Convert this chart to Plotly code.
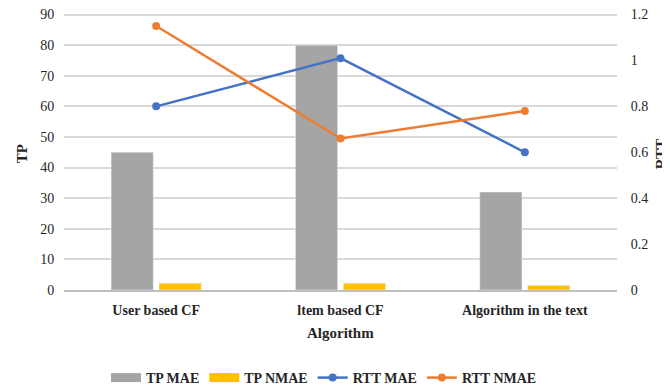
import plotly.graph_objects as go

categories = ["User based CF", "ltem based CF", "Algorithm in the text"]
tp_mae = [45, 80, 32]
tp_nmae = [2.2, 2.2, 1.5]
rtt_mae = [0.8, 1.01, 0.6]
rtt_nmae = [1.15, 0.66, 0.78]
tp_ticks = [0, 10, 20, 30, 40, 50, 60, 70, 80, 90]
rtt_ticks = [0, 0.2, 0.4, 0.6, 0.8, 1, 1.2]
rtt_tick_labels = ["0", "0.2", "0.4", "0.6", "0.8", "1", "1.2"]

FAM = "Liberation Serif"
TXT = "#262626"
GRAY, YELLOW, BLUE, ORANGE = "#a5a5a5", "#ffc000", "#4472c4", "#ed7d31"

fig = go.Figure()
fig.add_trace(go.Bar(x=categories, y=tp_mae, name="<b>TP MAE</b>", marker_color=GRAY,
                     showlegend=False, legendgroup="a"))
fig.add_trace(go.Bar(x=categories, y=tp_nmae, name="<b>TP NMAE</b>", marker_color=YELLOW,
                     showlegend=False, legendgroup="b"))
# legend swatches styled as wide rectangles for the bar series
fig.add_trace(go.Scatter(x=[None], y=[None], name="<b>TP MAE</b>", mode="lines",
                         line=dict(color=GRAY, width=9), legendgroup="a"))
fig.add_trace(go.Scatter(x=[None], y=[None], name="<b>TP NMAE</b>", mode="lines",
                         line=dict(color=YELLOW, width=9), legendgroup="b"))
fig.add_trace(go.Scatter(x=categories, y=rtt_mae, name="<b>RTT MAE</b>", yaxis="y2",
                         mode="lines+markers", line=dict(color=BLUE, width=2.5),
                         marker=dict(size=8, color=BLUE)))
fig.add_trace(go.Scatter(x=categories, y=rtt_nmae, name="<b>RTT NMAE</b>", yaxis="y2",
                         mode="lines+markers", line=dict(color=ORANGE, width=2.5),
                         marker=dict(size=8, color=ORANGE)))

W, H = 662, 381
TOP = 90.5
fig.update_layout(
    width=W, height=H,
    margin=dict(l=56, r=53, t=5, b=99, autoexpand=False),
    paper_bgcolor="white", plot_bgcolor="white",
    font=dict(family=FAM, size=14, color=TXT),
    barmode="group", bargap=0.48, bargroupgap=0.12,
    showlegend=True,
    legend=dict(orientation="h", xref="container", x=316 / W, xanchor="center",
                yref="container", y=11 / H, yanchor="middle",
                font=dict(family=FAM, size=14, color=TXT),
                itemwidth=30, traceorder="normal"),
    xaxis=dict(showgrid=False, showline=True, linecolor="#bfbfbf", linewidth=1.5,
               automargin=False, ticks="outside", ticklen=6, tickcolor="rgba(0,0,0,0)",
               tickfont=dict(family=FAM, size=14, color=TXT),
               tickprefix="<b>", ticksuffix="</b>"),
    yaxis=dict(range=[0, TOP], tickvals=tp_ticks, showgrid=True,
               gridcolor="#d9d9d9", gridwidth=1.5, ticklabeloverflow="allow",
               tickfont=dict(family=FAM, size=14, color=TXT),
               automargin=False, zeroline=False, ticks="outside", ticklen=6,
               tickcolor="rgba(0,0,0,0)", tickprefix="<b>", ticksuffix="</b>"),
    yaxis2=dict(range=[0, 1.2 * TOP / 90], tickvals=rtt_ticks, ticktext=rtt_tick_labels,
                overlaying="y", side="right", showgrid=False, ticklabeloverflow="allow",
                tickfont=dict(family=FAM, size=14, color=TXT),
                automargin=False, zeroline=False, ticks="outside", ticklen=10,
                tickcolor="rgba(0,0,0,0)", tickprefix="<b>", ticksuffix="</b>"),
    annotations=[
        dict(text="<b>Algorithm</b>", xref="paper", yref="paper", x=0.5, y=-43 / 277,
             xanchor="center", yanchor="middle", showarrow=False,
             font=dict(family=FAM, size=15, color=TXT)),
        dict(text="<b>TP</b>", xref="paper", yref="paper", x=-42 / 553, y=0.49,
             xanchor="center", yanchor="middle", showarrow=False, textangle=-90,
             font=dict(family=FAM, size=15, color=TXT)),
        dict(text="<b>RTT</b>", xref="paper", yref="paper", x=1 + 44 / 553, y=0.49,
             xanchor="center", yanchor="middle", showarrow=False, textangle=-90,
             font=dict(family=FAM, size=15, color=TXT)),
    ],
)

fig.write_html("out.html")
